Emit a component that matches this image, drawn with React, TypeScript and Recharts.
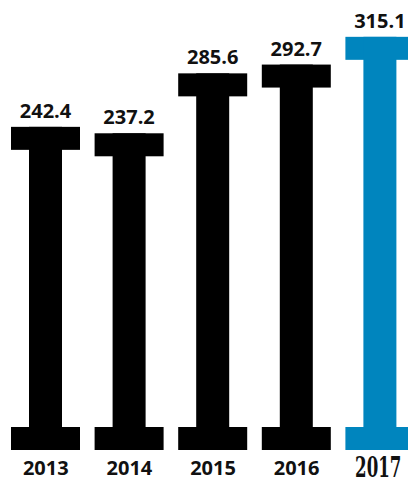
import { Bar, BarChart, Cell, LabelList, XAxis, YAxis } from "recharts";

const years = ["2013", "2014", "2015", "2016", "2017"];
const values = [242.4, 237.2, 285.6, 292.7, 315.1];

const BLACK = "#000000";
const BLUE = "#0085BE";
const CAP_H = 23;
const STEM_W = 33;

const rows = years.map((year, i) => ({ year, value: values[i] }));

// I-beam: wide cap at the value, narrow stem, wide foot below the baseline
function Beam(props: any) {
  const { x, y, width, height, fill } = props;
  if (width == null || height == null) return null;
  return (
    <g>
      <rect x={x} y={y} width={width} height={CAP_H} fill={fill} />
      <rect x={x + (width - STEM_W) / 2} y={y} width={STEM_W} height={height} fill={fill} />
      <rect x={x} y={y + height} width={width} height={CAP_H} fill={fill} />
    </g>
  );
}

function YearTick(props: any) {
  const { x, y, payload, index } = props;
  const last = index === years.length - 1;
  if (last) {
    // narrow serif label for the highlighted year
    return (
      <text
        transform={`translate(${x - 2},${y + 42}) scale(0.66,1)`}
        textAnchor="middle"
        fontFamily="'DejaVu Serif Condensed', 'DejaVu Serif', serif"
        fontWeight="bold"
        fontSize={28}
        fill="#111"
      >
        {payload.value}
      </text>
    );
  }
  return (
    <text
      x={x}
      y={y + 40}
      textAnchor="middle"
      fontFamily="'Open Sans', sans-serif"
      fontWeight="bold"
      fontSize={20}
      fill="#111"
    >
      {payload.value}
    </text>
  );
}

export default function App() {
  return (
    <div
      style={{
        position: "absolute",
        left: 0,
        top: 0,
        width: 408,
        height: 483,
        overflow: "hidden",
        background: "#fff",
      }}
    >
      <BarChart
        width={430}
        height={483}
        data={rows}
        margin={{ top: 6, right: 8, left: 4, bottom: 0 }}
        barSize={69}
      >
        <XAxis
          dataKey="year"
          axisLine={false}
          tickLine={false}
          height={56}
          interval={0}
          tick={<YearTick />}
        />
        <YAxis hide domain={[0, 340]} />
        <Bar dataKey="value" shape={<Beam />} isAnimationActive={false}>
          {rows.map((r, i) => (
            <Cell key={r.year} fill={i === rows.length - 1 ? BLUE : BLACK} />
          ))}
          <LabelList
            dataKey="value"
            position="top"
            offset={9}
            formatter={(v: any) => Number(v).toFixed(1)}
            style={{
              fontFamily: "'Open Sans', sans-serif",
              fontWeight: "bold",
              fontSize: 20,
              fill: "#111",
            }}
          />
        </Bar>
      </BarChart>
    </div>
  );
}
